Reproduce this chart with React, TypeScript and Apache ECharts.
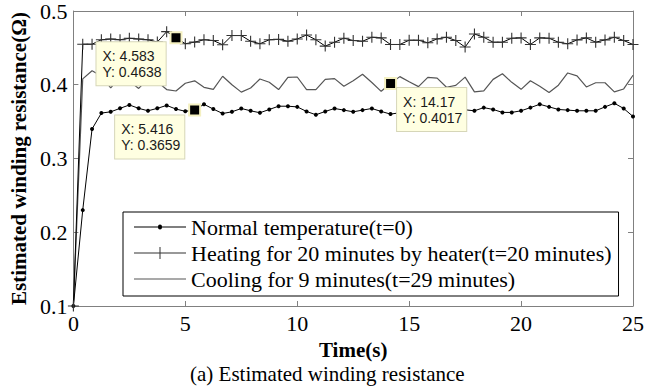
import React, { useEffect, useRef } from "react";
import * as echarts from "echarts";

// Sample times (s)
const times = [
  0, 0.4167, 0.8333, 1.25, 1.6667, 2.0833, 2.5, 2.9167, 3.3333, 3.75, 4.1667, 4.5833, 5, 5.4167,
  5.8333, 6.25, 6.6667, 7.0833, 7.5, 7.9167, 8.3333, 8.75, 9.1667, 9.5833, 10, 10.4167, 10.8333,
  11.25, 11.6667, 12.0833, 12.5, 12.9167, 13.3333, 13.75, 14.1667, 14.5833, 15, 15.4167, 15.8333,
  16.25, 16.6667, 17.0833, 17.5, 17.9167, 18.3333, 18.75, 19.1667, 19.5833, 20, 20.4167, 20.8333,
  21.25, 21.6667, 22.0833, 22.5, 22.9167, 23.3333, 23.75, 24.1667, 24.5833, 25,
];

const normalTemp = [
  0.1, 0.23, 0.34, 0.3616, 0.3633, 0.368, 0.3726, 0.368, 0.3647, 0.368, 0.372, 0.367, 0.364, 0.3659,
  0.3735, 0.367, 0.361, 0.3633, 0.3678, 0.3647, 0.362, 0.3665, 0.3709, 0.3709, 0.37, 0.3638, 0.3593,
  0.3638, 0.3678, 0.3656, 0.3633, 0.3656, 0.3678, 0.3638, 0.3602, 0.362, 0.364, 0.366, 0.365, 0.363,
  0.362, 0.363, 0.366, 0.3647, 0.369, 0.3665, 0.3625, 0.3625, 0.3647, 0.369, 0.3735, 0.37, 0.3665,
  0.3656, 0.3647, 0.3647, 0.3647, 0.37, 0.3749, 0.3678, 0.357,
];

const heating = [
  0.1, 0.455, 0.455, 0.461, 0.462, 0.461, 0.463, 0.462, 0.461, 0.458, 0.472, 0.4638, 0.4556, 0.4578,
  0.461, 0.46, 0.4542, 0.4667, 0.4667, 0.459, 0.4556, 0.461, 0.4615, 0.459, 0.462, 0.4675, 0.461,
  0.4524, 0.4577, 0.4631, 0.46, 0.459, 0.4644, 0.4635, 0.4546, 0.4546, 0.4604, 0.4604, 0.4569,
  0.4622, 0.4644, 0.46, 0.4511, 0.4688, 0.4644, 0.4577, 0.4577, 0.4631, 0.4635, 0.4546, 0.4635,
  0.4631, 0.4577, 0.4555, 0.4608, 0.4635, 0.4577, 0.4608, 0.4644, 0.46, 0.4546,
];

const cooling = [
  0.1, 0.408, 0.419, 0.412, 0.3957, 0.41, 0.405, 0.395, 0.408, 0.404, 0.3935, 0.3915, 0.402, 0.4053,
  0.3965, 0.3938, 0.4115, 0.4, 0.39, 0.3956, 0.4078, 0.4034, 0.3935, 0.41, 0.4105, 0.3934, 0.3934,
  0.4073, 0.4083, 0.398, 0.4054, 0.4142, 0.403, 0.3911, 0.4017, 0.411, 0.404, 0.3975, 0.41, 0.409,
  0.3966, 0.3992, 0.4103, 0.3904, 0.3916, 0.4073, 0.415, 0.4033, 0.3938, 0.4054, 0.3979, 0.3894,
  0.3994, 0.416, 0.412, 0.397, 0.4027, 0.4027, 0.3903, 0.3943, 0.4129,
];

const seriesNames = [
  "Normal temperature(t=0)",
  "Heating for 20 minutes by heater(t=20 minutes)",
  "Cooling for 9 minutes(t=29 minutes)",
];

// Data tips: x, y, series index
const tipX = [4.583, 5.416, 14.17];
const tipY = [0.4638, 0.3659, 0.4017];
const tipSeries = [1, 0, 2];

const xTickLabels = ["0", "5", "10", "15", "20", "25"];
const yTickLabels = ["0.1", "0.2", "0.3", "0.4", "0.5"];

const SERIF = "Liberation Serif";
const SANS = "Liberation Sans";
const AXIS_GRAY = "#808080";

const plusPath =
  "path://M4.5,0 L5.5,0 L5.5,4.5 L10,4.5 L10,5.5 L5.5,5.5 L5.5,10 L4.5,10 L4.5,5.5 L0,5.5 L0,4.5 L4.5,4.5 Z";

const legendIcons = [
  "path://M0,5.5 L24,5.5 A2,2 0 1,1 28,5.5 L52,5.5 L52,6.5 L28,6.5 A2,2 0 1,1 24,6.5 L0,6.5 Z",
  "path://M0,5.5 L25.5,5.5 L25.5,0 L26.5,0 L26.5,5.5 L52,5.5 L52,6.5 L26.5,6.5 L26.5,12 L25.5,12 L25.5,6.5 L0,6.5 Z",
  "path://M0,5.5 L52,5.5 L52,6.5 L0,6.5 Z",
];

export default function App() {
  const ref = useRef<HTMLDivElement>(null);

  useEffect(() => {
    document.body.style.margin = "0";
    if (!ref.current) return;
    const chart = echarts.init(ref.current, undefined, { renderer: "svg" });

    const zip = (ys: number[]) => times.map((t, i) => [t, ys[i]]);

    const labelOffsets: [number, number][] = [
      [-73, 11],
      [-73, 12],
      [13, 11],
    ];

    const markFor = (si: number) => {
      const data = tipSeries
        .map((s, k) => ({ s, k }))
        .filter((o) => o.s === si)
        .map(({ k }) => ({
          coord: [tipX[k], tipY[k]],
          label: {
            show: true,
            position: labelOffsets[k],
            align: "left",
            verticalAlign: "top",
            formatter: `X: ${tipX[k]}\nY: ${tipY[k]}`,
            fontFamily: SANS,
            fontSize: 14,
            lineHeight: 16,
            color: "#1a1a1a",
            backgroundColor: "#ffffe1",
            borderColor: "#d6d6b8",
            borderWidth: 1,
            padding: [6, 4, 5, 6],
          },
        }));
      return {
        symbol: "rect",
        symbolSize: 11,
        silent: true,
        itemStyle: { color: "#000", borderColor: "#f4f0c0", borderWidth: 2 },
        data,
      };
    };

    const commonX = {
      type: "value",
      min: 0,
      max: 25,
      interval: 5,
      splitLine: { show: false },
      axisLine: { show: true, onZero: false, lineStyle: { color: AXIS_GRAY, width: 1 } },
      axisTick: { show: true, inside: true, length: 5, lineStyle: { color: AXIS_GRAY } },
    };
    const commonY = {
      type: "value",
      min: 0.1,
      max: 0.5,
      interval: 0.1,
      splitLine: { show: false },
      axisLine: { show: true, onZero: false, lineStyle: { color: AXIS_GRAY, width: 1 } },
      axisTick: { show: true, inside: true, length: 5, lineStyle: { color: AXIS_GRAY } },
    };

    chart.setOption({
      animation: false,
      backgroundColor: "#fff",
      grid: { left: 69, right: 11, top: 5, bottom: 81, containLabel: false },
      xAxis: [
        {
          ...commonX,
          position: "bottom",
          name: "Time(s)",
          nameLocation: "middle",
          nameGap: 33,
          nameTextStyle: { fontFamily: SERIF, fontSize: 21, fontWeight: "bold", color: "#000" },
          axisLabel: {
            show: true,
            margin: 6,
            fontFamily: SERIF,
            fontSize: 22,
            color: "#000",
            formatter: (v: number) => xTickLabels[Math.round(v / 5)] ?? String(v),
          },
        },
        { ...commonX, position: "top", axisLabel: { show: false } },
      ],
      yAxis: [
        {
          ...commonY,
          position: "left",
          name: "Estimated winding resistance(Ω)",
          nameLocation: "middle",
          nameGap: 40,
          nameTextStyle: { fontFamily: SERIF, fontSize: 21, fontWeight: "bold", color: "#000" },
          axisLabel: {
            show: true,
            margin: 6,
            fontFamily: SERIF,
            fontSize: 22,
            color: "#000",
            formatter: (v: number) => yTickLabels[Math.round(v * 10) - 1] ?? v.toFixed(1),
          },
        },
        { ...commonY, position: "right", axisLabel: { show: false } },
      ],
      legend: {
        show: true,
        orient: "vertical",
        left: 123,
        top: 212,
        itemWidth: 52,
        itemHeight: 12,
        itemGap: 4,
        padding: [4, 7, 6, 11],
        borderColor: "#000",
        borderWidth: 1,
        backgroundColor: "#fff",
        selectedMode: false,
        textStyle: { fontFamily: SERIF, fontSize: 22, lineHeight: 22, color: "#000" },
        data: seriesNames.map((n, i) => ({ name: n, icon: legendIcons[i] })),
      },
      series: [
        {
          name: seriesNames[0],
          type: "line",
          data: zip(normalTemp),
          symbol: "circle",
          symbolSize: 4,
          showSymbol: true,
          showAllSymbol: true,
          lineStyle: { color: "#000", width: 1 },
          itemStyle: { color: "#000" },
          silent: true,
          z: 3,
          markPoint: markFor(0),
        },
        {
          name: seriesNames[1],
          type: "line",
          data: zip(heating),
          symbol: plusPath,
          symbolSize: 11,
          showSymbol: true,
          showAllSymbol: true,
          lineStyle: { color: "#000", width: 1 },
          itemStyle: { color: "#333" },
          silent: true,
          z: 3,
          markPoint: markFor(1),
        },
        {
          name: seriesNames[2],
          type: "line",
          data: zip(cooling),
          symbol: "none",
          showSymbol: false,
          lineStyle: { color: "#555", width: 1.2 },
          itemStyle: { color: "#555" },
          silent: true,
          z: 2,
          markPoint: markFor(2),
        },
      ],
      graphic: [
        {
          type: "text",
          left: 190,
          top: 363,
          style: {
            text: "(a) Estimated winding resistance",
            fontFamily: SERIF,
            fontSize: 21,
            fill: "#000",
          },
        },
      ],
    });

    return () => chart.dispose();
  }, []);

  return (
    <div
      ref={ref}
      style={{ position: "fixed", left: 0, top: 0, width: 647, height: 387 }}
    />
  );
}
